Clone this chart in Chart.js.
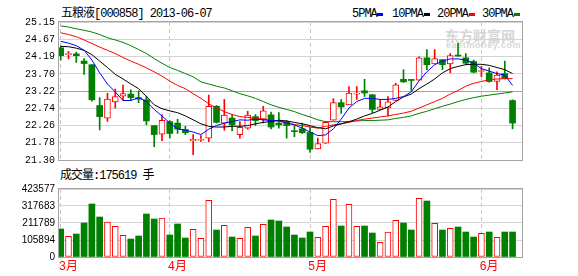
<!DOCTYPE html>
<html>
<head>
<meta charset="utf-8">
<script src="https://cdn.jsdelivr.net/npm/chart.js@4.4.0/dist/chart.umd.min.js"></script>
<style>
body { margin: 0; background: #fff; width: 578px; height: 276px; overflow: hidden; position: relative; }
canvas { position: absolute; left: 0; }
.txt { position: absolute; font-family: "Liberation Mono", "Noto Sans CJK SC", monospace; font-size: 12px; line-height: 12px; letter-spacing: -1px; color: #000; white-space: nowrap; }
.sw { position: absolute; width: 6px; height: 3px; top: 13px; }
.wm { position: absolute; color: #d6d6d6; font-weight: bold; white-space: nowrap; }
</style>
</head>
<body>
<div class="wm" style="left:445px;top:25px;font:bold 14px 'Noto Sans CJK SC';">东方财富网</div>
<div class="wm" style="left:446px;top:40px;font:bold 9px 'Liberation Sans';letter-spacing:0.6px;">eastmoney.com</div>
<div class="txt" style="left:61px;top:8px;">五粮液[000858] 2013-06-07</div>
<div id="legend"></div>
<div class="txt" style="left:60px;top:170px;">成交量:175619 手</div>
<canvas id="priceChart" width="578" height="170" style="top:0"></canvas>
<canvas id="volumeChart" width="578" height="106" style="top:170px"></canvas>
<script>
// 2013-03-12 .. 2013-06-07, daily
var dates = [
  '03-12','03-13','03-14','03-15','03-18','03-19','03-20','03-21','03-22','03-25','03-26','03-27','03-28','03-29',
  '04-01','04-02','04-03','04-08','04-09','04-10','04-11','04-12','04-15','04-16','04-17','04-18','04-19','04-22','04-23','04-24','04-25','04-26',
  '05-02','05-03','05-06','05-07','05-08','05-09','05-10','05-13','05-14','05-15','05-16','05-17','05-20','05-21','05-22','05-23','05-24','05-27','05-28','05-29','05-30','05-31',
  '06-03','06-04','06-05','06-06','06-07'
];
var openPx = [24.43,24.24,24.26,24.06,23.96,22.82,22.47,22.92,23.08,23.14,23.04,22.98,22.26,22.02,22.37,22.33,22.15,21.83,21.85,21.91,22.80,22.33,22.47,22.01,22.19,22.51,22.44,22.56,22.33,22.37,22.10,22.17,22.07,21.61,21.77,22.41,22.90,22.84,23.14,23.23,23.12,22.71,22.75,22.96,23.55,23.53,23.53,24.15,23.98,24.10,23.98,24.21,24.15,24.05,23.77,23.73,23.49,23.71,22.96];
var highPx = [24.48,24.33,24.31,24.13,23.96,23.04,23.16,23.28,23.39,23.26,23.23,23.08,22.26,22.56,22.40,22.44,22.24,22.01,21.98,23.11,22.82,22.99,22.57,22.37,22.66,22.57,22.80,22.64,22.62,22.40,22.26,22.33,22.22,21.91,22.38,23.01,22.99,23.35,23.35,23.55,23.13,22.99,23.07,23.44,23.82,23.53,24.18,24.38,24.38,24.10,24.27,24.56,24.27,24.09,23.91,23.87,23.76,24.06,22.98];
var lowPx = [24.09,24.12,24.02,23.69,22.94,22.14,22.38,22.75,22.96,22.96,22.90,22.28,21.67,21.84,21.91,22.04,22.01,21.45,21.82,21.81,22.33,22.13,22.11,21.91,22.16,22.26,22.33,22.17,22.19,21.91,21.95,22.04,21.51,21.61,21.76,22.41,22.60,22.84,22.99,23.07,22.62,22.71,22.53,22.96,23.46,23.24,23.53,23.82,23.98,23.82,23.73,24.20,23.96,23.73,23.62,23.47,23.26,23.56,22.17];
var closePx = [24.21,24.27,24.21,23.99,22.98,22.51,23.00,23.07,23.15,23.04,23.00,22.39,22.01,22.41,22.04,22.16,22.06,21.88,21.88,22.80,22.35,22.55,22.28,22.21,22.55,22.40,22.67,22.22,22.28,22.26,22.09,22.06,21.60,21.76,22.35,22.90,22.78,23.17,23.16,23.17,22.71,22.78,22.92,23.40,23.48,23.52,24.15,23.96,24.13,23.96,24.21,24.20,24.00,23.75,23.78,23.49,23.67,23.58,22.33];
var volume = [174400,128700,143300,211800,330100,249200,218000,191000,135000,112100,130800,267800,236700,242900,137000,205600,118300,172300,116300,353000,168200,197200,124600,116300,184800,130800,203500,230500,224200,186900,137000,118300,155700,122500,191000,359200,193100,328100,191000,193100,149500,91400,155700,228400,211800,168200,365400,348800,209700,168200,178600,186900,155700,124600,147400,155700,122500,155700,155700];

var ma5 = [24.61,24.56,24.49,24.36,24.09,23.73,23.42,23.20,22.96,22.96,23.04,22.93,22.71,22.53,22.33,22.17,22.13,22.08,22.01,22.16,22.26,22.33,22.37,22.42,22.41,22.44,22.42,22.40,22.39,22.34,22.28,22.19,22.08,21.98,22.00,22.17,22.44,22.75,22.93,23.02,23.02,22.99,22.99,23.02,23.07,23.20,23.51,23.76,23.96,24.06,24.12,24.12,24.09,24.00,23.85,23.78,23.71,23.67,23.38];
var ma10 = [24.47,24.46,24.42,24.36,24.24,24.06,23.88,23.69,23.56,23.42,23.29,23.07,22.84,22.73,22.67,22.62,22.53,22.42,22.31,22.24,22.22,22.22,22.24,22.24,22.26,22.31,22.35,22.37,22.41,22.39,22.35,22.31,22.26,22.20,22.17,22.25,22.31,22.37,22.44,22.53,22.60,22.69,22.78,22.93,23.06,23.14,23.29,23.42,23.56,23.73,23.85,23.91,23.96,23.97,23.97,23.94,23.88,23.82,23.71];
var ma20 = [24.85,24.80,24.74,24.65,24.55,24.45,24.36,24.27,24.16,24.06,23.97,23.87,23.76,23.64,23.50,23.38,23.29,23.15,23.02,22.87,22.75,22.65,22.57,22.51,22.49,22.46,22.44,22.41,22.39,22.33,22.29,22.26,22.22,22.19,22.24,22.28,22.31,22.35,22.40,22.44,22.47,22.50,22.53,22.57,22.61,22.66,22.75,22.84,22.93,23.02,23.14,23.24,23.36,23.44,23.49,23.54,23.56,23.57,23.57];
var ma30 = [25.04,25.01,24.96,24.92,24.87,24.80,24.71,24.65,24.58,24.49,24.38,24.27,24.13,24.00,23.88,23.80,23.71,23.62,23.48,23.42,23.36,23.31,23.23,23.15,23.09,23.02,22.93,22.84,22.77,22.71,22.65,22.57,22.50,22.42,22.37,22.37,22.37,22.37,22.39,22.40,22.40,22.41,22.42,22.46,22.49,22.53,22.60,22.66,22.73,22.80,22.86,22.93,22.99,23.04,23.08,23.11,23.14,23.17,23.20];

var priceTicks = [21.30, 21.78, 22.26, 22.74, 23.22, 23.70, 24.19, 24.67, 25.15];
var volumeTicks = [0, 105894, 211789, 317683, 423577];
var monthNames = ['3月', '4月', '5月', '6月'];

var RED = '#ff0000', GREEN = '#008000';

// first trading day of each month
var monthIdx = [];
dates.forEach(function (d, i) {
  if (i === 0 || d.slice(0, 2) !== dates[i - 1].slice(0, 2)) monthIdx.push(i);
});
var isUp = closePx.map(function (c, i) { return c >= openPx[i]; });

// legend at top right
var legendItems = [
  { text: '5PMA', color: '#0000ff', x: 352, sw: 377 },
  { text: '10PMA', color: '#000000', x: 392, sw: 424 },
  { text: '20PMA', color: RED, x: 437, sw: 469 },
  { text: '30PMA', color: GREEN, x: 482, sw: 514 }
];
var legendEl = document.getElementById('legend');
legendItems.forEach(function (it) {
  var t = document.createElement('div');
  t.className = 'txt';
  t.style.left = it.x + 'px';
  t.style.top = '8px';
  t.textContent = it.text;
  legendEl.appendChild(t);
  var s = document.createElement('div');
  s.className = 'sw';
  s.style.left = it.sw + 'px';
  s.style.background = it.color;
  legendEl.appendChild(s);
});

var frame = {
  id: 'frame',
  afterDraw: function (chart) {
    var a = chart.chartArea, ctx = chart.ctx;
    ctx.save();
    ctx.strokeStyle = '#a4a4a4';
    ctx.lineWidth = 1;
    ctx.strokeRect(Math.round(a.left) - 0.5, Math.round(a.top) - 0.5, Math.round(a.right - a.left) + 1, Math.round(a.bottom - a.top) + 1);
    ctx.restore();
  }
};

function xScale(showLabels, h) {
  return {
    type: 'linear',
    min: -0.22,
    max: 59.21,
    offset: false,
    afterBuildTicks: function (s) { s.ticks = monthIdx.map(function (v) { return { value: v }; }); },
    afterFit: function (s) { s.height = h; },
    grid: { drawTicks: false, offset: false, color: '#c4c4c4' },
    border: { display: false, dash: [4, 3] },
    ticks: {
      display: showLabels,
      autoSkip: false,
      maxRotation: 0,
      align: 'start',
      labelOffset: -2,
      padding: 3,
      color: RED,
      font: { family: "'Liberation Mono', 'Noto Sans CJK SC'", size: 12 },
      callback: function (v, i) { return monthNames[i]; }
    }
  };
}

function pts(arr) { return arr.map(function (v, i) { return { x: i, y: v }; }); }

function maLine(arr, color) {
  return {
    type: 'line',
    data: pts(arr),
    borderColor: color,
    borderWidth: 1,
    pointRadius: 0,
    tension: 0,
    fill: false,
    order: 0
  };
}

new Chart(document.getElementById('priceChart'), {
  type: 'bar',
  data: {
    datasets: [
      maLine(ma5, '#0000ff'),
      maLine(ma10, '#000000'),
      maLine(ma20, RED),
      maLine(ma30, GREEN),
      {
        // candle bodies
        data: openPx.map(function (o, i) { return { x: i, y: [o, closePx[i]] }; }),
        backgroundColor: function (c) { return isUp[c.dataIndex] ? '#ffffff' : GREEN; },
        borderColor: function (c) { return isUp[c.dataIndex] ? RED : GREEN; },
        borderWidth: function (c) { return isUp[c.dataIndex] ? 1 : 0; },
        borderSkipped: false,
        barThickness: 6,
        minBarLength: 1,
        grouped: false,
        order: 1
      },
      {
        // wicks
        data: lowPx.map(function (l, i) { return { x: i, y: [l, highPx[i]] }; }),
        backgroundColor: function (c) { return isUp[c.dataIndex] ? RED : GREEN; },
        barThickness: 1,
        grouped: false,
        order: 2
      }
    ]
  },
  options: {
    responsive: false,
    animation: false,
    events: [],
    layout: { padding: { top: 22, bottom: 4, left: 0, right: 56 } },
    plugins: { legend: { display: false }, tooltip: { enabled: false } },
    scales: {
      x: xScale(false, 0),
      y: {
        min: 21.30,
        max: 25.15,
        afterBuildTicks: function (s) { s.ticks = priceTicks.map(function (v) { return { value: v }; }); },
        afterFit: function (s) { s.width = 59; },
        grid: {
          drawTicks: false,
          color: function (c) { return c.index === 4 ? '#a4a4a4' : '#d4d4d4'; }
        },
        border: { display: false },
        ticks: {
          padding: 4,
          color: '#000',
          font: { family: "'Liberation Mono'", size: 10 },
          callback: function (v) { return v.toFixed(2); }
        }
      }
    }
  },
  plugins: [frame]
});

new Chart(document.getElementById('volumeChart'), {
  type: 'bar',
  data: {
    datasets: [{
      data: pts(volume),
      backgroundColor: function (c) { return isUp[c.dataIndex] ? '#ffffff' : GREEN; },
      borderColor: function (c) { return isUp[c.dataIndex] ? RED : GREEN; },
      borderWidth: function (c) { return isUp[c.dataIndex] ? 1 : 0; },
      borderSkipped: false,
      barThickness: 6
    }]
  },
  options: {
    responsive: false,
    animation: false,
    events: [],
    layout: { padding: { top: 19, bottom: 0, left: 0, right: 56 } },
    plugins: { legend: { display: false }, tooltip: { enabled: false } },
    scales: {
      x: xScale(true, 19),
      y: {
        min: 0,
        max: 423577,
        afterBuildTicks: function (s) { s.ticks = volumeTicks.map(function (v) { return { value: v }; }); },
        afterFit: function (s) { s.width = 59; },
        grid: { drawTicks: false, color: '#d4d4d4' },
        border: { display: false },
        ticks: {
          padding: 4,
          color: '#000',
          font: { family: "'Liberation Sans Narrow', 'Liberation Sans'", size: 10 },
          callback: function (v) { return String(v); }
        }
      }
    }
  },
  plugins: [frame]
});
</script>
</body>
</html>
